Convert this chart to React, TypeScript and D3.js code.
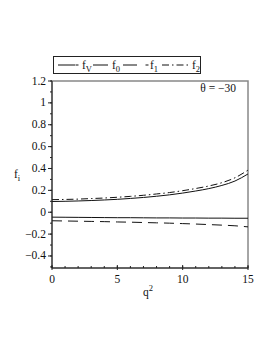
import * as d3 from "d3";
import React from "react";

// sampled at q^2 = 0..15
const q2 = [0, 1, 2, 3, 4, 5, 6, 7, 8, 9, 10, 11, 12, 13, 14, 15];
const fV = [-0.045, -0.046, -0.047, -0.048, -0.049, -0.05, -0.05, -0.051, -0.052, -0.052, -0.053, -0.053, -0.054, -0.054, -0.055, -0.055];
const f0 = [0.098, 0.1, 0.103, 0.107, 0.112, 0.118, 0.126, 0.135, 0.146, 0.159, 0.175, 0.194, 0.216, 0.245, 0.285, 0.35];
const f1 = [-0.078, -0.08, -0.082, -0.084, -0.086, -0.089, -0.091, -0.094, -0.097, -0.1, -0.104, -0.108, -0.113, -0.118, -0.124, -0.134];
const f2 = [0.115, 0.117, 0.12, 0.125, 0.13, 0.137, 0.145, 0.155, 0.167, 0.18, 0.197, 0.217, 0.24, 0.27, 0.315, 0.385];

const seriesNames = ["V", "0", "1", "2"];
const xTicks = [0, 5, 10, 15];
const yTicks = [-0.4, -0.2, 0, 0.2, 0.4, 0.6, 0.8, 1, 1.2];
const title = "θ = −30";

const font = "Liberation Serif, Times New Roman, DejaVu Serif, serif";

export default function App() {
  const W = 273, H = 353;
  const margin = { top: 81, right: 25, bottom: 85, left: 52 };
  const w = W - margin.left - margin.right;
  const h = H - margin.top - margin.bottom;

  const x = d3.scaleLinear().domain([0, 15]).range([0, w]);
  const y = d3.scaleLinear().domain([-0.51, 1.2]).range([h, 0]);

  const line = d3.line<number>()
    .x((d, i) => x(q2[i]))
    .y((d) => y(d))
    .curve(d3.curveMonotoneX);

  const series = [
    { name: "V", data: fV, dash: "none" },
    { name: "0", data: f0, dash: "none" },
    { name: "1", data: f1, dash: "10,6" },
    { name: "2", data: f2, dash: "7,3,1.5,3" },
  ];

  const legendSamples = [
    { x0: 58, x1: 75, dot: 77, dash: "none" },
    { x0: 93, x1: 108, dot: 0, dash: "none" },
    { x0: 123, x1: 137, dot: 147, dash: "none" },
    { x0: 162, x1: 188, dot: 0, dash: "7,3,1.5,3" },
  ];
  const legendText = [82, 112, 150, 192];

  const minorY = d3.range(-0.5, 1.21, 0.1);
  const minorX = d3.range(0, 15.01, 1);

  const txt = { fontFamily: font, fontSize: 11.5, fill: "#111" };

  return (
    <svg width={W} height={H} style={{ position: "absolute", left: 0, top: 0 }}>
      <rect x={0} y={0} width={W} height={H} fill="white" />
      {/* legend */}
      <rect x={53.5} y={56.5} width={147} height={17} fill="none" stroke="#222" strokeWidth={1} />
      {legendSamples.map((s, i) => (
        <g key={i}>
          <line x1={s.x0} x2={s.x1} y1={65} y2={65} stroke="#111" strokeWidth={1} strokeDasharray={s.dash} />
          {s.dot ? <line x1={s.dot - 1.5} x2={s.dot + 1.5} y1={65} y2={65} stroke="#111" strokeWidth={1} /> : null}
          <text x={legendText[i]} y={69} style={txt}>
            f<tspan style={{ fontSize: 8.5 }} dy={3}>{seriesNames[i]}</tspan>
          </text>
        </g>
      ))}
      <g transform={`translate(${margin.left},${margin.top})`}>
        <rect x={0} y={0} width={w} height={h} fill="none" stroke="#888" strokeWidth={1.5} />
        {series.map((s) => (
          <path key={s.name} d={line(s.data) || ""} fill="none" stroke="#111" strokeWidth={1} strokeDasharray={s.dash} />
        ))}
        {/* y axis */}
        <line x1={0} x2={0} y1={0} y2={h} stroke="#222" strokeWidth={1} />
        {minorY.map((v, i) => (
          <line key={"my" + i} x1={-2} x2={0} y1={y(v)} y2={y(v)} stroke="#222" />
        ))}
        {yTicks.map((v) => (
          <g key={"y" + v}>
            <line x1={-4} x2={0} y1={y(v)} y2={y(v)} stroke="#222" />
            <text x={-6} y={y(v) + 3.5} textAnchor="end" style={txt}>
              {v < 0 ? "−" + Math.abs(v) : String(v)}
            </text>
          </g>
        ))}
        {/* x axis */}
        <line x1={0} x2={w} y1={h} y2={h} stroke="#222" strokeWidth={1} />
        {minorX.map((v, i) => (
          <line key={"mx" + i} x1={x(v)} x2={x(v)} y1={h} y2={h - 2} stroke="#222" />
        ))}
        {xTicks.map((v) => (
          <g key={"x" + v}>
            <line x1={x(v)} x2={x(v)} y1={h + 2} y2={h - 3} stroke="#222" />
            <text x={x(v)} y={h + 15} textAnchor="middle" style={txt}>
              {v}
            </text>
          </g>
        ))}
        <text x={w - 12} y={11} textAnchor="end" style={txt}>
          {title}
        </text>
      </g>
      <text x={14} y={178} style={txt}>
        f<tspan style={{ fontSize: 8.5 }} dy={3}>i</tspan>
      </text>
      <text x={143} y={296} style={txt}>
        q<tspan style={{ fontSize: 8.5 }} dy={-5}>2</tspan>
      </text>
    </svg>
  );
}
